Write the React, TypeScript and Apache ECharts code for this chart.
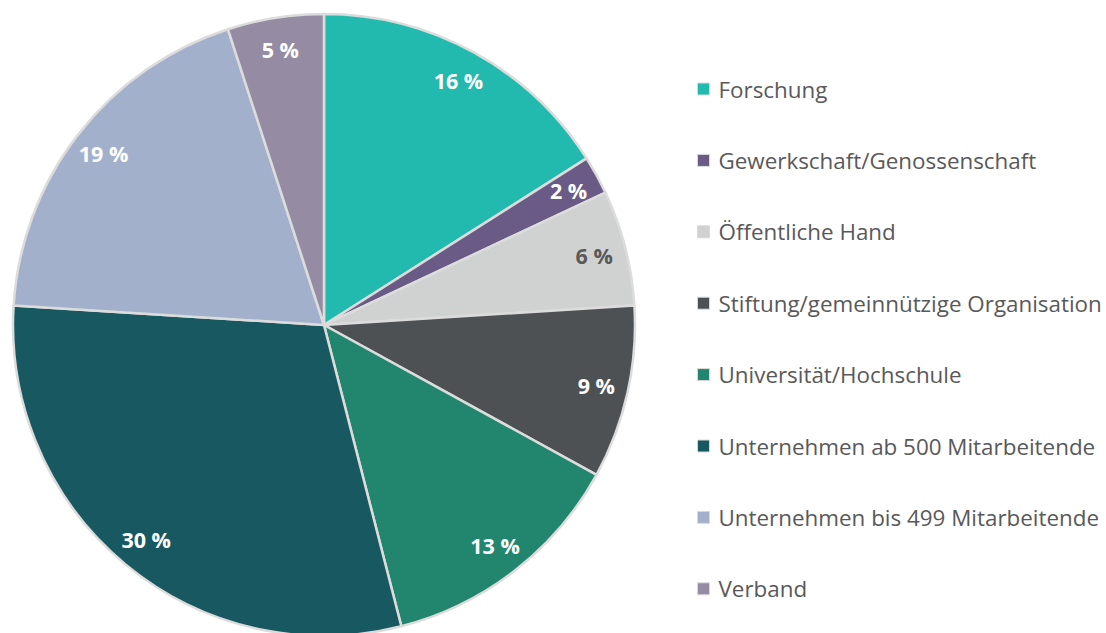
import React, { useEffect, useRef } from "react";
import * as echarts from "echarts";

const categories = [
  "Forschung",
  "Gewerkschaft/Genossenschaft",
  "Öffentliche Hand",
  "Stiftung/gemeinnützige Organisation",
  "Universität/Hochschule",
  "Unternehmen ab 500 Mitarbeitende",
  "Unternehmen bis 499 Mitarbeitende",
  "Verband",
];
const values = [16, 2, 6, 9, 13, 30, 19, 5];
const colors = ["#22BAAE", "#695B85", "#D0D2D1", "#4D5153", "#22856D", "#185961", "#A3B0CB", "#958CA3"];
const labelColors = ["#FFFFFF", "#FFFFFF", "#595959", "#FFFFFF", "#FFFFFF", "#FFFFFF", "#FFFFFF", "#FFFFFF"];

const FONT = "'Open Sans', sans-serif";

export default function App() {
  const ref = useRef<HTMLDivElement>(null);
  useEffect(() => {
    if (!ref.current) return;
    const chart = echarts.init(ref.current, undefined, { renderer: "svg" });
    const R = 311;
    const cx = 324;
    const cy = 325;
    const data = categories.map((name, i) => ({
      name,
      value: values[i],
      itemStyle: { color: colors[i] },
    }));
    const labelData = categories.map((name, i) => ({
      name,
      value: values[i],
      itemStyle: { color: "rgba(0,0,0,0)", borderWidth: 0 },
      label: { color: labelColors[i] },
    }));
    chart.setOption({
      animation: false,
      legend: {
        orient: "vertical",
        left: 692,
        top: 73,
        itemWidth: 12,
        itemHeight: 12,
        itemGap: 49.4,
        icon: "rect",
        itemStyle: { borderColor: "#D9D9D9", borderWidth: 1 },
        textStyle: {
          fontFamily: FONT,
          fontSize: 22.4,
          color: "#595959",
          lineHeight: 22,
          padding: [0, 0, 0, 4],
        },
        data: categories,
      },
      series: [
        {
          type: "pie",
          center: [cx, cy],
          radius: [0, R],
          startAngle: 90,
          clockwise: true,
          silent: true,
          label: { show: false },
          labelLine: { show: false },
          itemStyle: { borderColor: "#DCDCDC", borderWidth: 2.5 },
          data,
        },
        {
          type: "pie",
          center: [cx, cy],
          radius: [R * 0.775, R],
          startAngle: 90,
          clockwise: true,
          silent: true,
          legendHoverLink: false,
          label: {
            show: true,
            position: "inside",
            fontFamily: FONT,
            fontSize: 21.5,
            fontWeight: "bold",
            formatter: (p: any) => `${p.value} %`,
          },
          labelLine: { show: false },
          data: labelData,
        },
      ],
    });
    return () => chart.dispose();
  }, []);
  return (
    <div
      ref={ref}
      style={{ position: "absolute", left: 0, top: 0, width: 1106, height: 633, background: "#FFFFFF" }}
    />
  );
}
